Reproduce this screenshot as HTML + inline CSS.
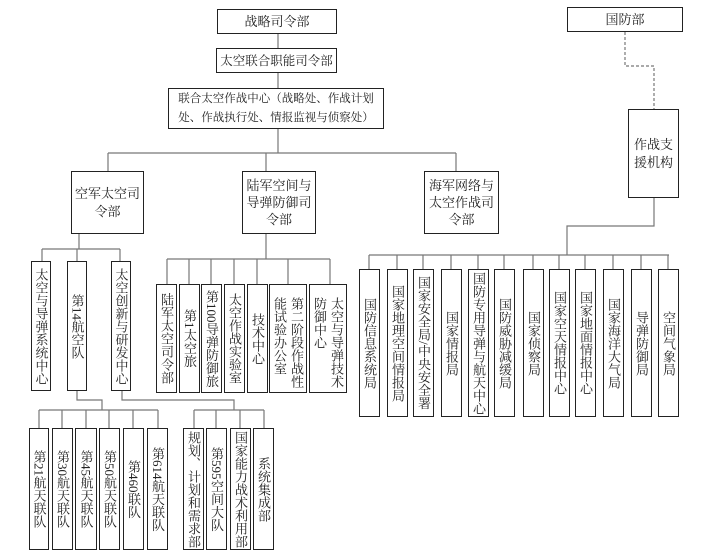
<!DOCTYPE html>
<html><head><meta charset="utf-8"><style>
body{margin:0;width:728px;height:556px;background:#fff;position:relative;overflow:hidden;font-family:"Liberation Serif","Noto Serif CJK SC","Noto Sans CJK SC",serif;color:#222}
.b{position:absolute;border:1.5px solid #222;box-sizing:border-box;background:#fff;font-size:13px;line-height:16px;display:flex;align-items:center;justify-content:center;text-align:center;white-space:nowrap}
.v{writing-mode:vertical-rl;text-align:start;line-height:17px;font-size:13px;white-space:normal}
svg{position:absolute;left:0;top:0}
</style></head><body>
<svg width="728" height="556" fill="none" stroke="#777" stroke-width="1.2">
<path d="M278 34V48M278 73V88M278 129V153M108 153H456M108 153V171M266 153V171M456 153V171"/>
<path d="M625 32V66H654V109" stroke-dasharray="3,2"/>
<path d="M654 198V226H567V255M369 255H669"/>
<path d="M369 255V269M397 255V269M423 255V269M451 255V269M478 255V269M504 255V269M533 255V269M559 255V269M585 255V269M613 255V269M641 255V269M668 255V269"/>
<path d="M79 234V249M42 249H120M42 249V261M77 249V261M120 249V261"/>
<path d="M266 234V259M167 259H330M167 259V284M189 259V284M211 259V284M234 259V284M257 259V284M288 259V284M330 259V284"/>
<path d="M77 391V400H102V410M39 410H158M39 410V428M62 410V428M86 410V428M109 410V428M133 410V428M158 410V428"/>
<path d="M122 391V400H234V410M194 410H264M194 410V428M216 410V428M240 410V428M264 410V428"/>
</svg>
<div class="b" style="left:217px;top:9px;width:120px;height:25px">战略司令部</div>
<div class="b" style="left:216px;top:48px;width:121px;height:25px;font-size:12.5px">太空联合职能司令部</div>
<div class="b" style="left:168px;top:88px;width:216px;height:41px;line-height:19px;font-size:11.5px">联合太空作战中心（战略处、作战计划<br>处、作战执行处、情报监视与侦察处）</div>
<div class="b" style="left:567px;top:7px;width:116px;height:25px">国防部</div>
<div class="b" style="left:628px;top:109px;width:51px;height:89px;line-height:18px">作战支<br>援机构</div>
<div class="b" style="left:71px;top:171px;width:73px;height:63px;line-height:18px">空军太空司<br>令部</div>
<div class="b" style="left:242px;top:171px;width:74px;height:63px;line-height:17px">陆军空间与<br>导弹防御司<br>令部</div>
<div class="b" style="left:424px;top:171px;width:75px;height:63px;line-height:17px">海军网络与<br>太空作战司<br>令部</div>

<div class="b v" style="left:31px;top:261px;width:20px;height:130px">太空与导弹系统中心</div>
<div class="b v" style="left:67px;top:261px;width:20px;height:130px;justify-content:flex-start;padding-top:32px">第14航空队</div>
<div class="b v" style="left:111px;top:261px;width:20px;height:130px">太空创新与研发中心</div>

<div class="b v" style="left:156px;top:284px;width:21px;height:109px">陆军太空司令部</div>
<div class="b v" style="left:179px;top:284px;width:21px;height:109px">第1太空旅</div>
<div class="b v" style="left:201px;top:284px;width:21px;height:109px">第100导弹防御旅</div>
<div class="b v" style="left:224px;top:284px;width:21px;height:109px">太空作战实验室</div>
<div class="b v" style="left:247px;top:284px;width:21px;height:109px">技术中心</div>
<div class="b v" style="left:269px;top:284px;width:38px;height:109px;justify-content:flex-start;padding-top:12px">第二阶段作战性能试验办公室</div>
<div class="b v" style="left:309px;top:284px;width:38px;height:109px;justify-content:flex-start;padding-top:12px">太空与导弹技术防御中心</div>

<div class="b v" style="left:359px;top:269px;width:21px;height:148px">国防信息系统局</div>
<div class="b v" style="left:387px;top:269px;width:21px;height:148px">国家地理空间情报局</div>
<div class="b v" style="left:413px;top:269px;width:21px;height:148px">国家安全局/中央安全署</div>
<div class="b v" style="left:441px;top:269px;width:21px;height:148px">国家情报局</div>
<div class="b v" style="left:468px;top:269px;width:21px;height:148px">国防专用导弹与航天中心</div>
<div class="b v" style="left:494px;top:269px;width:21px;height:148px">国防威胁减缓局</div>
<div class="b v" style="left:523px;top:269px;width:21px;height:148px">国家侦察局</div>
<div class="b v" style="left:549px;top:269px;width:21px;height:148px">国家空天情报中心</div>
<div class="b v" style="left:575px;top:269px;width:21px;height:148px">国家地面情报中心</div>
<div class="b v" style="left:603px;top:269px;width:21px;height:148px">国家海洋大气局</div>
<div class="b v" style="left:631px;top:269px;width:21px;height:148px">导弹防御局</div>
<div class="b v" style="left:658px;top:269px;width:21px;height:148px">空间气象局</div>

<div class="b v" style="left:29px;top:428px;width:20px;height:122px">第21航天联队</div>
<div class="b v" style="left:52px;top:428px;width:21px;height:122px">第30航天联队</div>
<div class="b v" style="left:75px;top:428px;width:22px;height:122px">第45航天联队</div>
<div class="b v" style="left:99px;top:428px;width:21px;height:122px">第50航天联队</div>
<div class="b v" style="left:123px;top:428px;width:21px;height:122px">第460联队</div>
<div class="b v" style="left:147px;top:428px;width:21px;height:122px">第614航天联队</div>
<div class="b v" style="left:183px;top:428px;width:21px;height:122px">规划、计划和需求部</div>
<div class="b v" style="left:206px;top:428px;width:21px;height:122px">第595空间大队</div>
<div class="b v" style="left:230px;top:428px;width:21px;height:122px">国家能力战术利用部</div>
<div class="b v" style="left:253px;top:428px;width:21px;height:122px">系统集成部</div>
</body></html>
